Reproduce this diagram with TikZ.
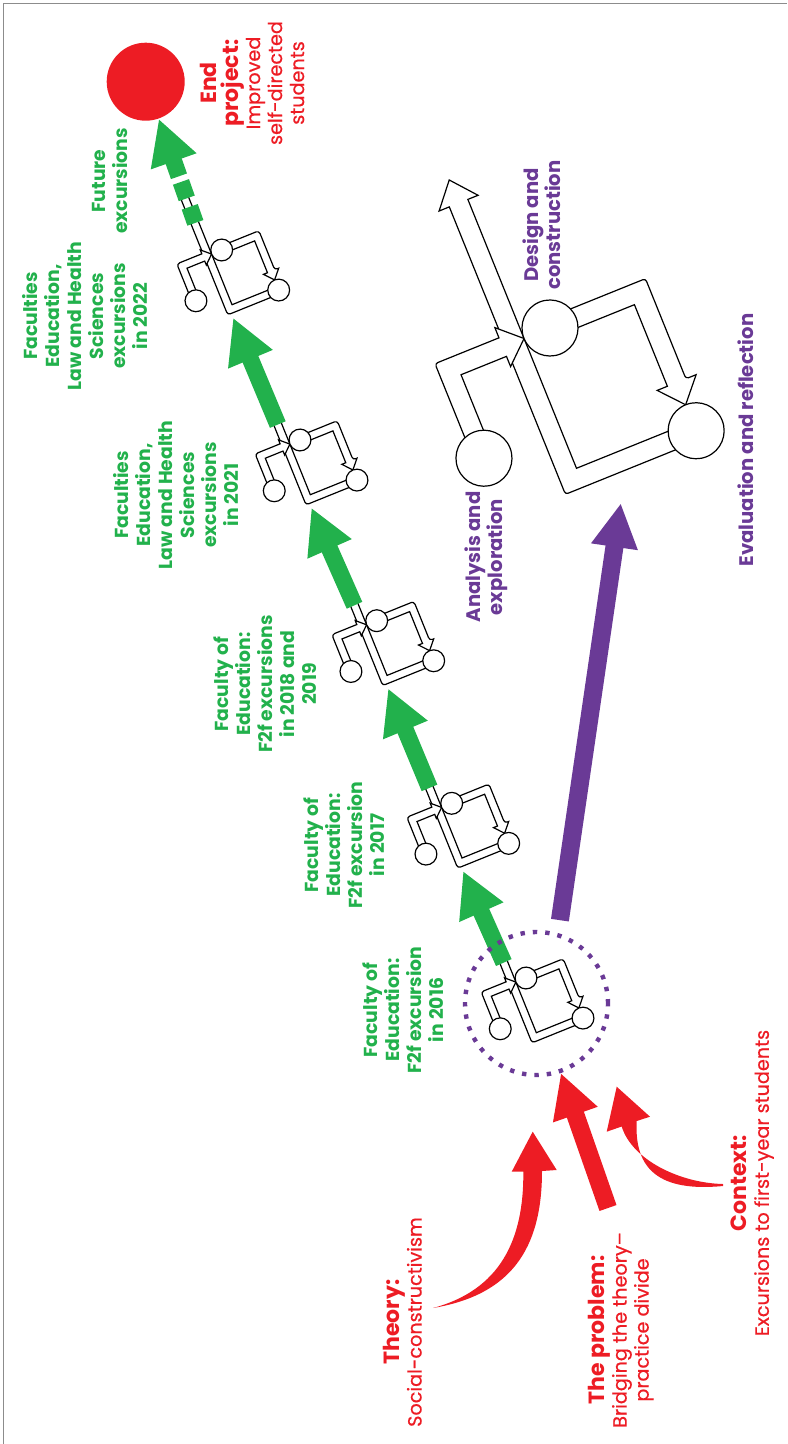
\documentclass[tikz,border=0pt]{standalone}
\usepackage{fontspec}
\setmainfont{Poppins}
\newfontfamily\medfont{Poppins}[FakeBold=0.6]
\usetikzlibrary{arrows.meta}

\definecolor{exgreen}{HTML}{22B14C}
\definecolor{exred}{HTML}{ED1C24}
\definecolor{expurple}{HTML}{6A3A96}
\definecolor{framegray}{HTML}{8C8C8C}

\tikzset{
  icon/.style={draw=black,fill=white,line width=0.6pt},
  greenarrow/.style={draw=exgreen,line width=8.5pt,-{Triangle[width=22.5pt,length=22.5pt]}},
  purplearrow/.style={draw=expurple,line width=9pt,-{Triangle[width=22pt,length=22pt]}},
  redarrow/.style={draw=exred,line width=9pt,-{Triangle[width=22pt,length=22pt]}},
  lbl/.style={rotate=90,align=center,inner sep=0pt},
  greenlbl/.style={lbl,text=exgreen,font=\fontsize{9.4}{11}\selectfont\bfseries},
  purplelbl/.style={lbl,text=expurple,font=\fontsize{9.8}{11}\selectfont\bfseries},
  redlbl/.style={lbl,text=exred,font=\fontsize{9.6}{11}\selectfont\medfont}
}

\newcommand{\hd}[1]{{\fontsize{11}{12}\selectfont\rmfamily\bfseries #1}}

% one design cycle: name, centre of design circle, scale, top of the spine
\newcommand{\cycleicon}[4]{%
\begin{scope}[shift={#2},rotate=22,scale=#3]
\draw[icon] (97,140) -- (-28,140) -- #4 [rounded corners=1.5pt] -- (-48,160) -- (97,160) [sharp corners] -- cycle;
\draw[icon] (0,-10) [rounded corners=1.5pt] -- (107,-10) -- (107,98) [sharp corners] -- (118,98) -- (97,122) -- (76,98) -- (87,98) -- (87,10) -- (0,10) -- cycle;
\draw[icon] (-100,96) -- (-100,10) -- (-51,10) -- (-51,21) -- (-28,0) -- (-51,-21) -- (-51,-10) [rounded corners=1.5pt] -- (-120,-10) -- (-120,96) [sharp corners] -- cycle;
\draw[icon] (0,0) circle (28) (-110,96) circle (28) (97,150) circle (28);
\coordinate (#1-in) at (-38,172);
\coordinate (#1-out) at (-38,-58);
\coordinate (#1-foot) at (0,189);
\end{scope}}

\begin{document}
\begin{tikzpicture}[x=0.5pt,y=-0.5pt]
\useasboundingbox (0,0) rectangle (787,1444);
\draw[framegray,line width=0.9pt] (3.5,1444) -- (3.5,3.5) -- (787,3.5);

% the cycles along the path
\foreach \n/\x/\y in {i16/526/978,i17/451.7/803.3,i18/376.7/620.7,i21/300/440}
  \cycleicon{\n}{(\x,\y)}{0.39}{(-28,-90) -- (-48,-90)};
\cycleicon{i22}{(221.7,250)}{0.39}{(-28,-180) -- (-48,-180)}
\cycleicon{design}{(550,328)}{1}{(-28,-150) -- (-17,-150) -- (-38,-175) -- (-59,-150) -- (-48,-150)}

\node[circle,fill=exred,inner sep=0pt,minimum size=39pt] (end) at (145.7,81.7) {};

\foreach \a/\b in {i16/i17,i17/i18,i18/i21,i21/i22}
  \draw[greenarrow] (\a-out) -- (\b-in);
\draw[greenarrow,dash pattern=on 0pt off 6.2pt on 8.5pt off 4.5pt on 8.7pt off 3pt on 100pt] (i22-out) -- (end);

\node[circle,draw=expurple,line width=2.2pt,dash pattern=on 2.2pt off 4pt,minimum size=71.5pt,inner sep=0pt] (start) at (536.5,1003.5) {};
\draw[purplearrow,shorten <=6.5pt] (start.73) -- (design-foot);

% what goes in
\coordinate (probtail) at (608,1208);
\draw[redarrow] (probtail) -- (start);
\fill[exred] (433,1308) .. controls (510,1295) and (542,1250) .. (542,1171) -- (556.7,1170) -- (532.7,1131.7) -- (511.7,1171.7) -- (523.3,1171.5) .. controls (524,1240) and (500,1290) .. (433,1308) -- cycle;
\fill[exred] (723,1186) .. controls (660,1192) and (634,1170) .. (636.7,1121) -- (650,1116.7) -- (616.7,1086.7) -- (606.7,1131.7) -- (621.7,1126.5) .. controls (632,1160) and (680,1183) .. (723,1184) -- cycle;

\node[redlbl] (endtxt) at (252,83) {\hd{End}\\\hd{project:}\\Improved\\self-directed\\students};
\node[greenlbl] (future) at (110,181) {Future\\excursions};
\node[greenlbl] (lab22) at (85,316) {Faculties\\Education,\\Law and Health\\Sciences\\excursions\\in 2022};
\node[greenlbl] (lab21) at (176,495) {Faculties\\Education,\\Law and Health\\Sciences\\excursions\\in 2021};
\node[greenlbl] (lab18) at (265,684) {Faculty of\\Education:\\F2f excursions\\in 2018 and\\2019};
\node[greenlbl] (lab17) at (344,845) {Faculty of\\Education:\\F2f excursion\\in 2017};
\node[greenlbl] (lab16) at (403,1010) {Faculty of\\Education:\\F2f excursion\\in 2016};

\node[purplelbl] (analysis) at (486.5,557) {Analysis and\\exploration};
\node[purplelbl] (designtxt) at (541.5,225) {Design and\\construction};
\node[purplelbl] (evaluation) at (745.5,440) {Evaluation and reflection};

\node[redlbl] (theory) at (402.5,1322) {\hd{Theory:}\\Social-constructivism};
\node[redlbl] (problem) at (621,1330) {\hd{The problem:}\\Bridging the theory–\\practice divide};
\node[redlbl] (context) at (752.5,1183) {\hd{Context:}\\Excursions to first-year students};
\end{tikzpicture}
\end{document}
